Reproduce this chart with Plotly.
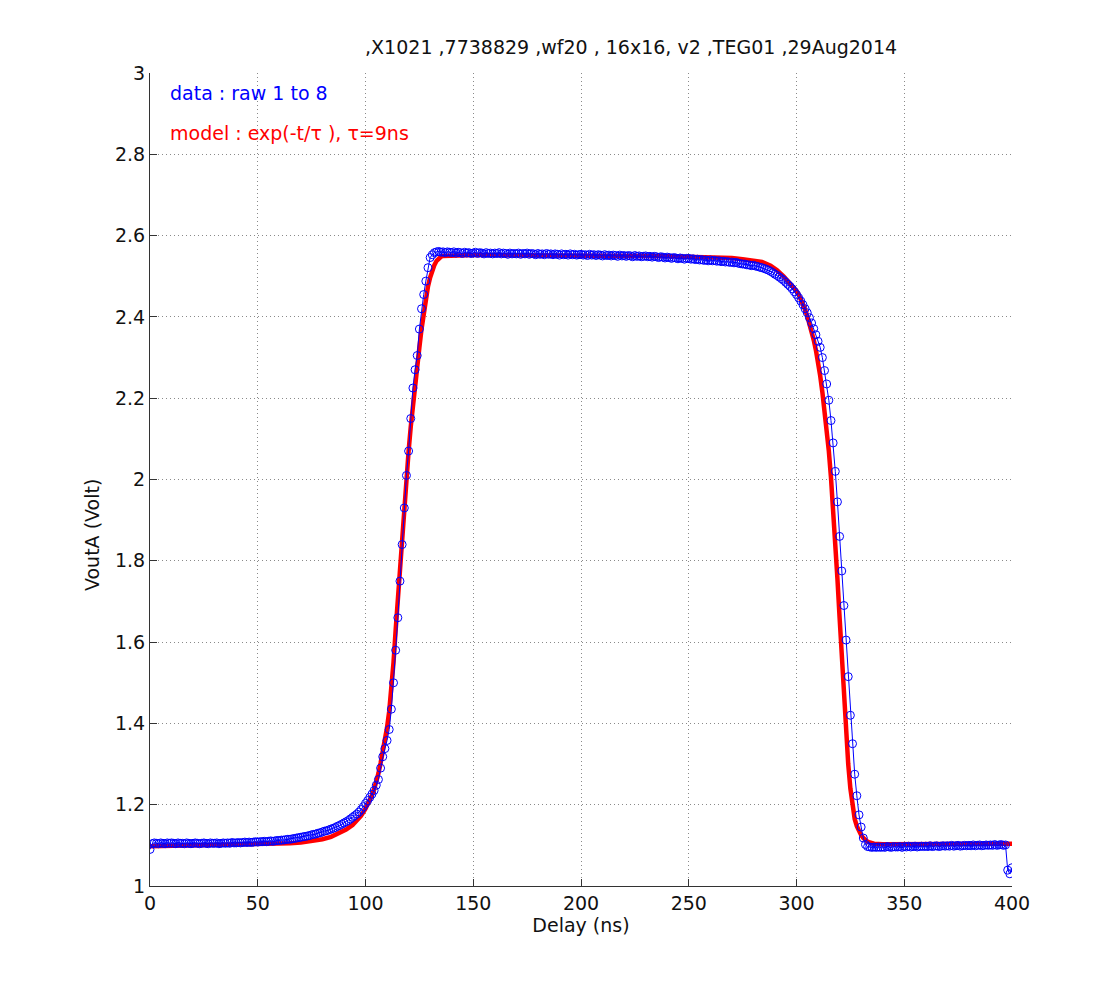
import plotly.graph_objects as go

# ---------------- data ----------------
title_text = ",X1021 ,7738829 ,wf20 , 16x16, v2 ,TEG01 ,29Aug2014"
label_data = "data : raw 1 to 8"
label_model = "model : exp(-t/\u03c4 ), \u03c4=9ns"
x_title = "Delay (ns)"
y_title = "VoutA (Volt)"

# measured data (sampled every 1 ns, 0..400 ns)
data_t = list(range(0, 401))
data_v = [
    1.090, 1.104, 1.106, 1.105, 1.104, 1.106, 1.105, 1.104, 1.106, 1.105,
    1.106, 1.105, 1.104, 1.106, 1.105, 1.105, 1.104, 1.106, 1.105, 1.104,
    1.105, 1.106, 1.105, 1.104, 1.105, 1.106, 1.105, 1.104, 1.106, 1.105,
    1.105, 1.106, 1.104, 1.105, 1.106, 1.105, 1.106, 1.105, 1.107, 1.106,
    1.106, 1.107, 1.106, 1.107, 1.108, 1.107, 1.108, 1.107, 1.108, 1.109,
    1.108, 1.109, 1.109, 1.110, 1.109, 1.110, 1.111, 1.110, 1.111, 1.112,
    1.112, 1.113, 1.113, 1.114, 1.115, 1.115, 1.116, 1.117, 1.118, 1.119,
    1.120, 1.121, 1.122, 1.123, 1.124, 1.126, 1.127, 1.128, 1.130, 1.131,
    1.133, 1.135, 1.136, 1.138, 1.140, 1.142, 1.144, 1.147, 1.149, 1.152,
    1.155, 1.158, 1.161, 1.165, 1.169, 1.173, 1.177, 1.182, 1.188, 1.195,
    1.203, 1.210, 1.218, 1.226, 1.235, 1.248, 1.262, 1.290, 1.318, 1.338,
    1.358, 1.385, 1.435, 1.500, 1.580, 1.660, 1.750, 1.840, 1.930, 2.010,
    2.070, 2.150, 2.225, 2.270, 2.305, 2.370, 2.420, 2.455, 2.488, 2.521,
    2.546, 2.553, 2.558, 2.560, 2.561, 2.559, 2.560, 2.558, 2.560, 2.559,
    2.558, 2.560, 2.557, 2.559, 2.558, 2.556, 2.559, 2.557, 2.558, 2.556,
    2.557, 2.559, 2.556, 2.558, 2.557, 2.555, 2.558, 2.556, 2.557, 2.555,
    2.557, 2.556, 2.558, 2.555, 2.557, 2.556, 2.554, 2.557, 2.555, 2.556,
    2.555, 2.557, 2.554, 2.556, 2.555, 2.557, 2.554, 2.556, 2.555, 2.553,
    2.556, 2.554, 2.555, 2.553, 2.556, 2.554, 2.555, 2.553, 2.555, 2.554,
    2.552, 2.555, 2.553, 2.554, 2.552, 2.555, 2.553, 2.554, 2.552, 2.553,
    2.554, 2.552, 2.553, 2.551, 2.554, 2.552, 2.553, 2.551, 2.553, 2.552,
    2.550, 2.553, 2.551, 2.552, 2.550, 2.552, 2.551, 2.549, 2.552, 2.550,
    2.551, 2.549, 2.551, 2.550, 2.548, 2.551, 2.549, 2.550, 2.548, 2.549,
    2.550, 2.548, 2.549, 2.547, 2.549, 2.548, 2.546, 2.548, 2.547, 2.545,
    2.547, 2.546, 2.544, 2.546, 2.545, 2.543, 2.545, 2.544, 2.542, 2.544,
    2.544, 2.542, 2.543, 2.541, 2.542, 2.540, 2.541, 2.539, 2.540, 2.538,
    2.540, 2.538, 2.539, 2.537, 2.538, 2.536, 2.537, 2.535, 2.536, 2.534,
    2.535, 2.533, 2.534, 2.532, 2.531, 2.530, 2.530, 2.528, 2.528, 2.526,
    2.527, 2.525, 2.524, 2.522, 2.521, 2.519, 2.517, 2.515, 2.512, 2.509,
    2.505, 2.502, 2.498, 2.494, 2.490, 2.485, 2.480, 2.475, 2.469, 2.462,
    2.455, 2.447, 2.439, 2.430, 2.420, 2.410, 2.398, 2.385, 2.371, 2.356,
    2.340, 2.325, 2.300, 2.268, 2.235, 2.195, 2.145, 2.090, 2.020, 1.945,
    1.860, 1.775, 1.690, 1.605, 1.515, 1.420, 1.350, 1.275, 1.222, 1.175,
    1.145, 1.118, 1.102, 1.097, 1.096, 1.095, 1.096, 1.095, 1.096, 1.095,
    1.096, 1.095, 1.097, 1.096, 1.095, 1.097, 1.096, 1.096, 1.097, 1.095,
    1.097, 1.096, 1.098, 1.096, 1.097, 1.098, 1.096, 1.097, 1.098, 1.097,
    1.098, 1.097, 1.099, 1.097, 1.098, 1.099, 1.097, 1.098, 1.099, 1.098,
    1.099, 1.098, 1.100, 1.098, 1.099, 1.100, 1.098, 1.099, 1.100, 1.099,
    1.100, 1.099, 1.101, 1.099, 1.100, 1.101, 1.099, 1.100, 1.101, 1.100,
    1.101, 1.100, 1.102, 1.100, 1.101, 1.102, 1.100, 1.101, 1.039, 1.030,
    1.045,
]

# model curve
model_t = ([0, 10, 20, 30, 40, 50, 60, 65, 70, 75, 80, 84, 88, 91, 94, 96, 98]
           + list(range(100, 137))
           + [140, 150, 160, 170, 180, 190, 200, 210, 220, 230, 240, 250, 260,
              265, 270, 275, 280, 284, 288, 291, 294, 296, 298]
           + list(range(300, 337))
           + [340, 350, 360, 370, 380, 390, 400])
model_v = ([1.098, 1.099, 1.099, 1.100, 1.100, 1.101, 1.103, 1.105, 1.107, 1.110,
            1.115, 1.121, 1.130, 1.139, 1.150, 1.160, 1.173]
           + [1.190, 1.200, 1.211, 1.223, 1.238, 1.255, 1.277, 1.302, 1.328, 1.355,
              1.390, 1.430, 1.480, 1.550, 1.630, 1.710, 1.790, 1.860, 1.930, 2.000,
              2.070, 2.130, 2.185, 2.235, 2.280, 2.325, 2.370, 2.410, 2.445, 2.475,
              2.497, 2.514, 2.528, 2.538, 2.544, 2.548, 2.550]
           + [2.551, 2.552, 2.552, 2.552, 2.552, 2.551, 2.551, 2.551, 2.550, 2.550,
              2.549, 2.548, 2.547, 2.546, 2.545, 2.542, 2.539, 2.535, 2.526, 2.515,
              2.500, 2.489, 2.477]
           + [2.464, 2.455, 2.444, 2.432, 2.418, 2.402, 2.385, 2.365, 2.343, 2.318,
              2.290, 2.255, 2.215, 2.170, 2.122, 2.070, 2.005, 1.930, 1.845, 1.755,
              1.660, 1.565, 1.470, 1.385, 1.300, 1.240, 1.195, 1.165, 1.147, 1.134,
              1.125, 1.118, 1.113, 1.109, 1.107, 1.105, 1.104]
           + [1.103, 1.103, 1.103, 1.103, 1.104, 1.104, 1.104])

x_ticks = [0, 50, 100, 150, 200, 250, 300, 350, 400]
y_ticks = [1, 1.2, 1.4, 1.6, 1.8, 2, 2.2, 2.4, 2.6, 2.8, 3]

# ---------------- figure ----------------
FONT = "DejaVu Sans, Liberation Sans, Arial, sans-serif"
FSIZE = 19
fig = go.Figure()

fig.add_trace(go.Scatter(
    x=model_t, y=model_v, mode="lines",
    line=dict(color="#ff0000", width=4.5),
    name=label_model, hoverinfo="skip"))

fig.add_trace(go.Scatter(
    x=data_t, y=data_v, mode="lines+markers",
    line=dict(color="#0000ff", width=1),
    marker=dict(symbol="circle-open", size=8, color="#0000ff", line=dict(width=1)),
    name=label_data))

axis_common = dict(
    showgrid=True, gridcolor="#8a8a8a", griddash="1px,3px", gridwidth=1,
    zeroline=False, showline=True, linecolor="#333333", linewidth=1,
    ticks="inside", ticklen=7, tickcolor="#333333", mirror=False,
    tickfont=dict(family=FONT, size=FSIZE, color="#111111"),
)

fig.update_xaxes(range=[0, 400], tickvals=x_ticks, **axis_common,
                 title=dict(text=x_title, font=dict(family=FONT, size=FSIZE, color="#111111"),
                            standoff=2))
fig.update_yaxes(range=[1, 3], tickvals=y_ticks, **axis_common)

# y-axis label (placed slightly below axis centre, as in the original)
fig.add_annotation(x=-0.067, y=0.432, xref="paper", yref="paper", text=y_title,
                   showarrow=False, textangle=-90, xanchor="center", yanchor="middle",
                   font=dict(family=FONT, size=FSIZE, color="#111111"))

fig.add_annotation(x=0.021, y=0.975, xref="paper", yref="paper", text=label_data,
                   showarrow=False, xanchor="left", yanchor="middle",
                   font=dict(family=FONT, size=FSIZE, color="#0000ff"))
fig.add_annotation(x=0.021, y=0.926, xref="paper", yref="paper", text=label_model,
                   showarrow=False, xanchor="left", yanchor="middle",
                   font=dict(family=FONT, size=FSIZE, color="#ff0000"))

fig.update_layout(
    width=1115, height=981,
    margin=dict(l=150, r=103, t=73, b=95),
    paper_bgcolor="white", plot_bgcolor="white",
    showlegend=False,
    title=dict(text=title_text, x=0.566, xanchor="center", y=1 - 47 / 981, yanchor="middle",
               font=dict(family=FONT, size=FSIZE, color="#111111")),
)

fig.write_html("out.html")
